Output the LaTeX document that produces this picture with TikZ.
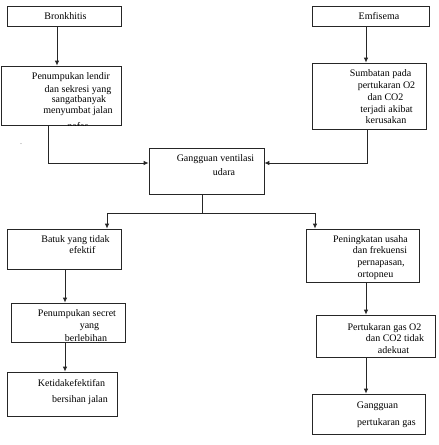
\documentclass[tikz,border=0pt]{standalone}
\usepackage{fontspec}
\setmainfont{Liberation Serif}
\usetikzlibrary{arrows.meta}
\tikzset{
  box/.style={draw=black!85, line width=0.6pt, inner sep=0pt, anchor=center},
  conn/.style={draw=black!85, line width=0.9pt},
  arr/.style={conn, -{Latex[length=5pt,width=4.5pt]}},
  txt/.style={inner sep=0pt, anchor=base, font=\fontsize{10}{12}\selectfont, text=black}
}
\newcommand{\mkbox}[5]{\node[box, minimum width={(#4-#2)*1pt}, minimum height={(#5-#3)*1pt}] (#1) at ({(#2+#4)/2},{(#3+#5)/2}) {};}
\begin{document}
\begin{tikzpicture}[x=1pt,y=-1pt]
\useasboundingbox (0,0) rectangle (439,445);
% boxes
\mkbox{bron}{7}{6}{121}{26}
\mkbox{lendir}{1}{66}{121}{125}
\mkbox{emf}{312}{6}{429}{26}
\mkbox{sumb}{312}{63}{426}{129}
\mkbox{gang}{149}{148}{264}{194}
\mkbox{batuk}{7}{229}{121}{269}
\mkbox{peni}{306}{229}{419}{282}
\mkbox{secret}{11}{303}{125}{342}
\mkbox{ketid}{7}{372}{117}{416}
\mkbox{pert}{316}{315}{435}{357}
\mkbox{ggas}{312}{394}{425}{434}
% helper coordinates
\coordinate (xA) at (57,0);
\coordinate (xB) at (48,0);
\coordinate (yC) at (0,163);
\coordinate (xD) at (367,0);
\coordinate (xR) at (366,0);
\coordinate (xE) at (202,0);
\coordinate (yF) at (0,213);
\coordinate (xL) at (107,0);
\coordinate (xP) at (315,0);
\coordinate (xS) at (65,0);
% texts
\node[txt] (t1) at (65.5,19.5) {Bronkhitis};
\node[txt] (t2) at (379,19.5) {Emfisema};
\begin{scope}
\clip (lendir.north west) rectangle (lendir.south east);
\node[txt] (t3a) at (71,79.5) {Penumpukan lendir};
\node[txt] (t3b) at (78,92.5) {dan sekresi yang};
\node[txt] (t3c) at (79,102.5) {sangatbanyak};
\node[txt] (t3d) at (78,113.5) {menyumbat jalan};
\node[txt] (t3e) at (78,129.5) {nafas};
\end{scope}
\node[txt] (t4a) at (380.5,76.5) {Sumbatan pada};
\node[txt] (t4b) at (386.5,88.5) {pertukaran O2};
\node[txt] (t4c) at (385.5,100.5) {dan CO2};
\node[txt] (t4d) at (386.5,112.5) {terjadi akibat};
\node[txt] (t4e) at (386,123.5) {kerusakan};
\node[txt] (t5a) at (215.5,161.5) {Gangguan ventilasi};
\node[txt] (t5b) at (224,175) {udara};
\node[txt] (t6a) at (75.5,242.5) {Batuk yang tidak};
\node[txt] (t6b) at (82.5,253.5) {efektif};
\node[txt] (t7a) at (370.5,242.5) {Peningkatan usaha};
\node[txt] (t7b) at (380,253.5) {dan frekuensi};
\node[txt] (t7c) at (381,265.5) {pernapasan,};
\node[txt] (t7d) at (375.5,277.5) {ortopneu};
\begin{scope}
\clip (secret.north west) rectangle (secret.south east);
\node[txt] (t8a) at (77,316.5) {Penumpukan secret};
\node[txt] (t8b) at (89.5,328.5) {yang};
\node[txt] (t8c) at (86,341) {berlebihan};
\end{scope}
\node[txt] (t9a) at (71.5,386) {Ketidakefektifan};
\node[txt] (t9b) at (80,402.5) {bersihan jalan};
\node[txt] (t10a) at (384.5,330.5) {Pertukaran gas O2};
\node[txt] (t10b) at (395,341.5) {dan CO2 tidak};
\node[txt] (t10c) at (393.5,353.5) {adekuat};
\node[txt] (t11a) at (377.5,408.5) {Gangguan};
\node[txt] (t11b) at (386.5,425.5) {pertukaran gas};
\node[txt, font=\fontsize{6}{6}\selectfont] (dot) at (21,144) {.};
% connectors
\draw[arr] (bron.south -| xA) -- (lendir.north -| xA);
\draw[arr] (lendir.south -| xB) |- (gang.west |- yC);
\draw[arr] (emf.south -| xR) -- (sumb.north -| xR);
\draw[arr] (sumb.south -| xD) |- (gang.east |- yC);
\draw[conn] (gang.south -| xE) -- (xE |- yF);
\draw[arr] (xE |- yF) -| (batuk.north -| xL);
\draw[arr] (xE |- yF) -| (peni.north -| xP);
\draw[arr] (batuk.south -| xS) -- (secret.north -| xS);
\draw[arr] (secret.south -| xS) -- (ketid.north -| xS);
\draw[arr] (peni.south -| xR) -- (pert.north -| xR);
\draw[arr] (pert.south -| xR) -- (ggas.north -| xR);
\end{tikzpicture}
\end{document}
